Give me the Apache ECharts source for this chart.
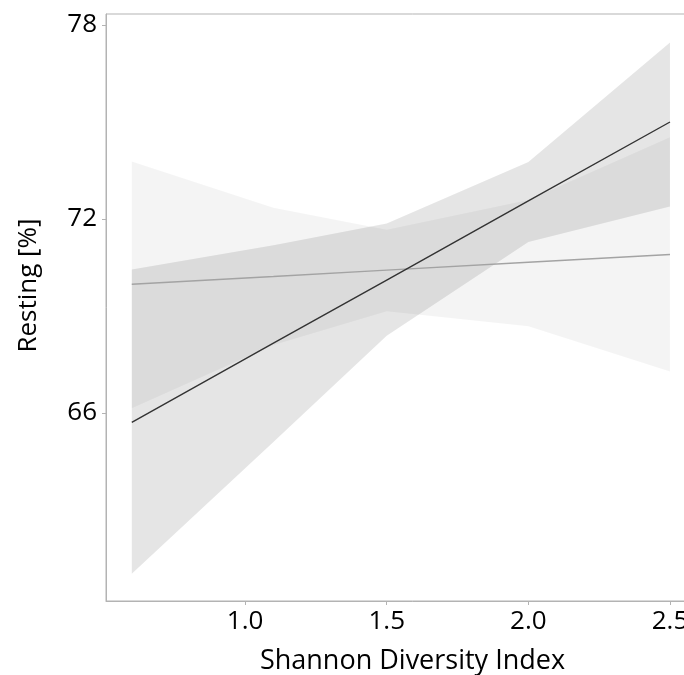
<!DOCTYPE html>
<html>
<head>
<meta charset="utf-8">
<script src="https://cdn.jsdelivr.net/npm/echarts@6/dist/echarts.min.js"></script>
<style>
  html, body { margin: 0; padding: 0; background: #ffffff; overflow: hidden; }
  /* the panel continues past the right edge of the window */
  #chart { width: 720px; height: 675px; }
</style>
</head>
<body>
<div id="chart"></div>
<script>
// Shannon diversity values at which the fitted models are evaluated
const diversity = [0.6, 1.1, 1.5, 2.0, 2.5];

// Model A (dark line) fit with its confidence band
const fitA   = [65.71, 68.16, 70.11, 72.56, 75.00];
const lowerA = [61.03, 65.10, 68.39, 71.29, 72.39];
const upperA = [70.44, 71.19, 71.86, 73.76, 77.46];

// Model B (grey line) fit with its confidence band
const fitB   = [69.98, 70.22, 70.42, 70.66, 70.90];
const lowerB = [66.15, 68.10, 69.15, 68.68, 67.28];
const upperB = [73.78, 72.35, 71.67, 72.59, 74.53];

// Tick positions
const xTicks = [1.0, 1.5, 2.0, 2.5];
const yTicks = [66, 72, 78];

const FONT = 'Open Sans';
const AXIS_GREY = '#b3b3b3';

const pairs = (ys) => diversity.map((x, i) => [x, ys[i]]);

// Confidence ribbon: polygon along the upper bound, back along the lower bound
function band(name, lo, hi, fill) {
  return {
    name: name, type: 'custom', silent: true, z: 1,
    data: diversity.map((x, i) => [x, lo[i], hi[i]]),
    encode: { x: 0, y: [1, 2] },
    renderItem: function (params, api) {
      if (params.dataIndex !== 0) return null;
      const top = diversity.map((x, i) => api.coord([x, hi[i]]));
      const bottom = diversity.map((x, i) => api.coord([x, lo[i]])).reverse();
      return {
        type: 'polygon',
        shape: { points: top.concat(bottom) },
        style: { fill: fill }
      };
    }
  };
}

const chart = echarts.init(document.getElementById('chart'), null, { renderer: 'canvas' });

chart.setOption({
  animation: false,
  backgroundColor: '#ffffff',
  grid: {
    left: 106, top: 14, bottom: 74, right: 1,
    outerBoundsMode: 'none', containLabel: false,
    show: true, borderColor: AXIS_GREY, borderWidth: 1, backgroundColor: 'transparent'
  },
  xAxis: {
    type: 'value', min: 0.509, max: 2.673,
    name: 'Shannon Diversity Index', nameLocation: 'middle', nameGap: 47,
    nameTextStyle: { fontFamily: FONT, fontSize: 27, color: '#000000' },
    splitLine: { show: false },
    axisLine: { show: true, lineStyle: { color: AXIS_GREY, width: 1 } },
    axisTick: { show: true, length: 4, customValues: xTicks, lineStyle: { color: AXIS_GREY } },
    axisLabel: {
      customValues: xTicks, margin: 8,
      fontFamily: FONT, fontSize: 26, color: '#000000',
      formatter: (v) => v.toFixed(1)
    }
  },
  yAxis: {
    type: 'value', min: 60.185, max: 78.34,
    name: 'Resting [%]', nameLocation: 'middle', nameGap: 64,
    nameTextStyle: { fontFamily: FONT, fontSize: 26, color: '#000000', padding: [0, 0, 0, 44] },
    splitLine: { show: false },
    axisLine: { show: true, lineStyle: { color: AXIS_GREY, width: 1 } },
    axisTick: { show: true, length: 4, customValues: yTicks, lineStyle: { color: AXIS_GREY } },
    axisLabel: {
      customValues: yTicks, margin: 9,
      fontFamily: FONT, fontSize: 26, color: '#000000',
      formatter: (v) => String(Math.round(v))
    }
  },
  series: [
    band('bandB', lowerB, upperB, 'rgba(0,0,0,0.043)'),
    band('bandA', lowerA, upperA, 'rgba(0,0,0,0.10)'),
    {
      name: 'fitB', type: 'line', data: pairs(fitB), symbol: 'none',
      lineStyle: { color: '#a3a3a3', width: 1.4 }, z: 3
    },
    {
      name: 'fitA', type: 'line', data: pairs(fitA), symbol: 'none',
      lineStyle: { color: '#333333', width: 1.4 }, z: 4
    }
  ]
});
</script>
</body>
</html>
